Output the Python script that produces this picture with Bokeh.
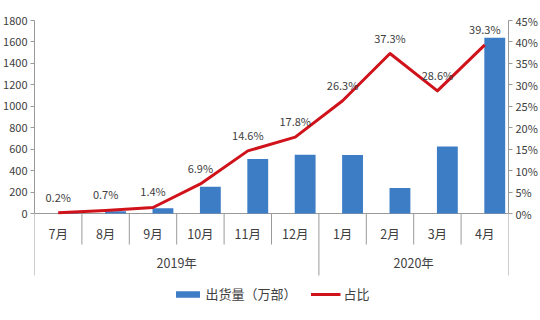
from bokeh.plotting import figure
from bokeh.models import (Range1d, LinearAxis, FixedTicker, ColumnDataSource, Legend,
                          LegendItem, PrintfTickFormatter, Grid)
from bokeh.transform import dodge
from bokeh.core.properties import value
from bokeh.embed import file_html
from bokeh.resources import INLINE

# ---------------- data ----------------
months = ["7月", "8月", "9月", "10月", "11月", "12月", "1月", "2月", "3月", "4月"]
years = ["2019年", "2020年"]
year_spans = [6, 4]
shipments = [6, 21.9, 49.7, 249.0, 507.4, 546.9, 546.5, 238.2, 624.6, 1638.2]
share = [0.2, 0.7, 1.4, 6.9, 14.6, 17.8, 26.3, 37.3, 28.6, 39.3]
share_labels = ["0.2%", "0.7%", "1.4%", "6.9%", "14.6%", "17.8%", "26.3%", "37.3%", "28.6%", "39.3%"]
left_ticks = [0, 200, 400, 600, 800, 1000, 1200, 1400, 1600, 1800]
right_ticks = [0, 5, 10, 15, 20, 25, 30, 35, 40, 45]
bar_name = "出货量（万部）"
line_name = "占比"

# ---------------- geometry / style ----------------
W, H = 540, 320
TOP = 20          # frame top (px)
ZERO_PX = 213     # pixel row of the value 0
YMAX = left_ticks[-1]
RMAX = right_ticks[-1]
px_per = YMAX / (ZERO_PX - TOP)


def yd(px):
    return YMAX - (px - TOP) * px_per


ymin = yd(H)
FONT = value("Noto Sans CJK SC")
TXT = "#404040"
GRID = "#9a9a9a"
BLUE = "#3C7DC6"
RED = "#D0121B"

n = len(months)
xc = [i + 0.5 for i in range(n)]

src = ColumnDataSource(dict(x=xc, month=months, ship=shipments, share=share, lab=share_labels))

p = figure(width=W, height=H, output_backend="svg", toolbar_location=None,
           x_range=Range1d(0, n), y_range=Range1d(ymin, YMAX),
           x_axis_location=None, y_axis_location=None,
           min_border_top=TOP, min_border_bottom=0, min_border_left=3, min_border_right=3)
p.extra_y_ranges = {"pct": Range1d(ymin / YMAX * RMAX, RMAX)}
p.outline_line_color = None
p.background_fill_color = "white"
p.border_fill_color = "white"
for g in p.select(type=Grid):
    g.visible = False
    g.grid_line_color = None

# axes
ly = LinearAxis(ticker=FixedTicker(ticks=left_ticks), bounds=(0, YMAX))
ry = LinearAxis(ticker=FixedTicker(ticks=right_ticks), bounds=(0, RMAX), y_range_name="pct",
                formatter=PrintfTickFormatter(format="%d%%"))
for ax in (ly, ry):
    ax.axis_line_color = GRID
    ax.major_tick_line_color = GRID
    ax.major_tick_out = 4
    ax.major_tick_in = 0
    ax.minor_tick_out = 0
    ax.minor_tick_in = 0
    ax.major_label_text_font = "Noto Sans CJK SC"
    ax.major_label_text_font_size = "11px"
    ax.major_label_text_color = TXT
    ax.major_label_standoff = 3
p.add_layout(ly, "left")
p.add_layout(ry, "right")

# category axis line and separators
p.segment(x0=[0], y0=[0], x1=[n], y1=[0], line_color=GRID, line_width=1)
bounds_idx = [0]
for s in year_spans:
    bounds_idx.append(bounds_idx[-1] + s)
sep_x = list(range(n + 1))
sep_y1 = [yd(275) if i in bounds_idx else yd(244) for i in sep_x]
p.segment(x0=sep_x, y0=[0] * len(sep_x), x1=sep_x, y1=sep_y1, line_color=GRID, line_width=1)

# bars
bars = p.vbar(x=dodge("x", 0.21, range=p.x_range), top="ship", bottom=0, width=0.44,
              source=src, fill_color=BLUE, line_color=None)
# line
line = p.line(x="x", y="share", source=src, y_range_name="pct", line_color=RED,
              line_width=3, line_join="round")
# data labels
p.text(x="x", y="share", text="lab", source=src, y_range_name="pct", y_offset=-16,
       text_align="center", text_baseline="middle", text_font=FONT,
       text_font_size="11px", text_color=TXT)

# month labels
p.text(x="x", y=yd(233), text="month", source=src, text_align="center",
       text_baseline="middle", text_font=FONT, text_font_size="12.5px", text_color=TXT)
# year labels
year_x = [(bounds_idx[i] + bounds_idx[i + 1]) / 2 for i in range(len(years))]
p.text(x=year_x, y=[yd(262)] * len(years), text=years, text_align="center",
       text_baseline="middle", text_font=FONT, text_font_size="12.5px", text_color=TXT)

legend = Legend(items=[LegendItem(label=bar_name, renderers=[bars]),
                       LegendItem(label=line_name, renderers=[line])],
                orientation="horizontal", location="bottom_center",
                border_line_color=None, background_fill_alpha=0,
                glyph_width=30, glyph_height=8, label_height=16,
                label_text_font="Noto Sans CJK SC", label_text_font_size="13px",
                label_text_color=TXT, spacing=14, padding=0, margin=17,
                label_standoff=3)
p.add_layout(legend, "center")

open("out.html", "w").write(file_html(p, INLINE))
